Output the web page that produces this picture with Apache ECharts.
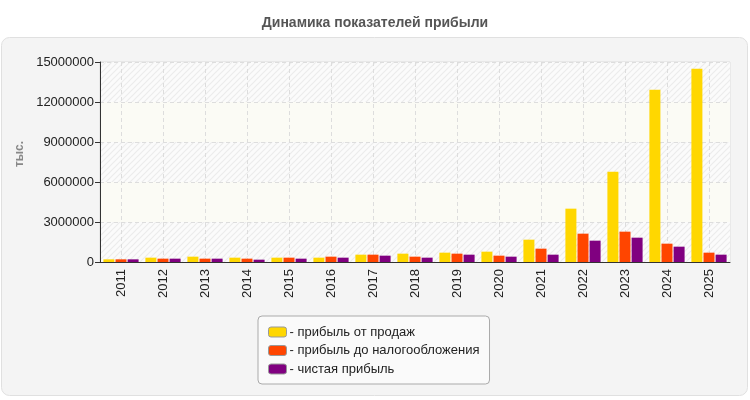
<!DOCTYPE html>
<html lang="ru">
<head>
    <meta charset="utf-8">
    <title>Динамика показателей прибыли</title>
    <script src="https://cdn.jsdelivr.net/npm/echarts@6/dist/echarts.min.js"></script>
    <style>
        html, body {margin: 0; padding: 0; background: #fff;}
        #main {width: 750px; height: 400px;}
    </style>
</head>
<body>
<div id="main"></div>
<script type="text/javascript">

    var years = ['2011', '2012', '2013', '2014', '2015', '2016', '2017', '2018',
        '2019', '2020', '2021', '2022', '2023', '2024', '2025'];
    // тыс.
    var salesProfit = [200000, 325000, 400000, 325000, 325000, 325000, 550000, 625000,
        700000, 775000, 1675000, 4000000, 6775000, 12925000, 14500000];
    var preTaxProfit = [200000, 250000, 250000, 250000, 325000, 400000, 550000, 400000,
        625000, 475000, 1000000, 2125000, 2275000, 1375000, 700000];
    var netProfit = [200000, 250000, 250000, 175000, 250000, 325000, 475000, 325000,
        550000, 400000, 550000, 1600000, 1825000, 1150000, 550000];
    var seriesNames = ['прибыль от продаж', 'прибыль до налогообложения', 'чистая прибыль'];
    var yTicks = [0, 3000000, 6000000, 9000000, 12000000, 15000000];

    // штриховка для полос фона
    function makeHatch() {
        var c = document.createElement('canvas');
        c.width = 6; c.height = 6;
        var ctx = c.getContext('2d');
        ctx.fillStyle = '#fbfbfb';
        ctx.fillRect(0, 0, 6, 6);
        ctx.strokeStyle = '#ececec';
        ctx.lineWidth = 1.2;
        ctx.beginPath();
        ctx.moveTo(0, 6); ctx.lineTo(6, 0);
        ctx.moveTo(-3, 3); ctx.lineTo(3, -3);
        ctx.moveTo(3, 9); ctx.lineTo(9, 3);
        ctx.stroke();
        return {image: c, repeat: 'repeat'};
    }
    var hatch = makeHatch();

    var myChart = echarts.init(document.getElementById('main'));
    var option = {
        animation: false,
        title: {
            text: 'Динамика показателей прибыли',
            left: 'center',
            top: 11,
            textStyle: {
                fontFamily: 'Liberation Sans Narrow, Arial Narrow, sans-serif',
                fontSize: 14,
                fontWeight: 'bold',
                color: '#555'
            }
        },
        graphic: [{
            type: 'rect',
            z: -10,
            shape: {x: 1.5, y: 37.5, width: 746, height: 358, r: 8},
            style: {fill: '#f4f4f4', stroke: '#e0e0e0', lineWidth: 1}
        }],
        legend: {
            orient: 'vertical',
            left: 258,
            top: 316,
            padding: [9, 10, 8, 10],
            itemWidth: 18,
            itemHeight: 10,
            itemGap: 4.5,
            backgroundColor: '#fafafa',
            borderColor: '#aaa',
            borderWidth: 1,
            borderRadius: 4,
            itemStyle: {borderColor: '#999', borderWidth: 1},
            textStyle: {
                fontFamily: 'Liberation Sans, Arial, sans-serif',
                fontSize: 13,
                lineHeight: 14,
                color: '#222',
                padding: [0, 0, 0, -2]
            },
            formatter: function (name) { return '- ' + name; },
            data: seriesNames
        },
        grid: {
            left: 100,
            right: 20,
            top: 62,
            height: 200,
            show: true,
            borderColor: '#ddd',
            borderWidth: 1,
            backgroundColor: 'transparent'
        },
        xAxis: {
            type: 'category',
            data: years,
            axisLine: {lineStyle: {color: '#333', width: 1}},
            axisTick: {alignWithLabel: true, length: 4, lineStyle: {color: '#333'}},
            axisLabel: {
                rotate: 90,
                margin: 7,
                fontFamily: 'Liberation Sans, Arial, sans-serif',
                fontSize: 13,
                color: '#222'
            },
            splitLine: {
                show: true,
                alignWithLabel: true,
                lineStyle: {color: '#ddd', type: [4, 3]}
            }
        },
        yAxis: {
            type: 'value',
            min: yTicks[0],
            max: yTicks[yTicks.length - 1],
            interval: yTicks[1] - yTicks[0],
            name: 'тыс.',
            nameLocation: 'middle',
            nameGap: 64,
            nameTextStyle: {
                fontFamily: 'Liberation Sans, Arial, sans-serif',
                fontSize: 12,
                fontWeight: 'bold',
                color: '#888',
                padding: [0, 0, 0, 16]
            },
            axisLine: {show: true, lineStyle: {color: '#333', width: 1}},
            axisTick: {show: true, length: 5, lineStyle: {color: '#333'}},
            axisLabel: {
                margin: 6,
                fontFamily: 'Liberation Sans, Arial, sans-serif',
                fontSize: 13,
                color: '#222',
                formatter: function (v) { return String(v); }
            },
            splitLine: {lineStyle: {color: '#ddd', type: [4, 3]}},
            splitArea: {
                show: true,
                areaStyle: {color: [hatch, '#fbfbf5']}
            }
        },
        series: [
            {
                name: seriesNames[0],
                type: 'bar',
                barWidth: 11,
                barGap: '10%',
                itemStyle: {color: '#ffd700'},
                data: salesProfit
            },
            {
                name: seriesNames[1],
                type: 'bar',
                barWidth: 11,
                barGap: '10%',
                itemStyle: {color: '#ff4500'},
                data: preTaxProfit
            },
            {
                name: seriesNames[2],
                type: 'bar',
                barWidth: 11,
                barGap: '10%',
                itemStyle: {color: '#800080'},
                data: netProfit
            }
        ]
    };
    myChart.setOption(option);

</script>
</body>
</html>
